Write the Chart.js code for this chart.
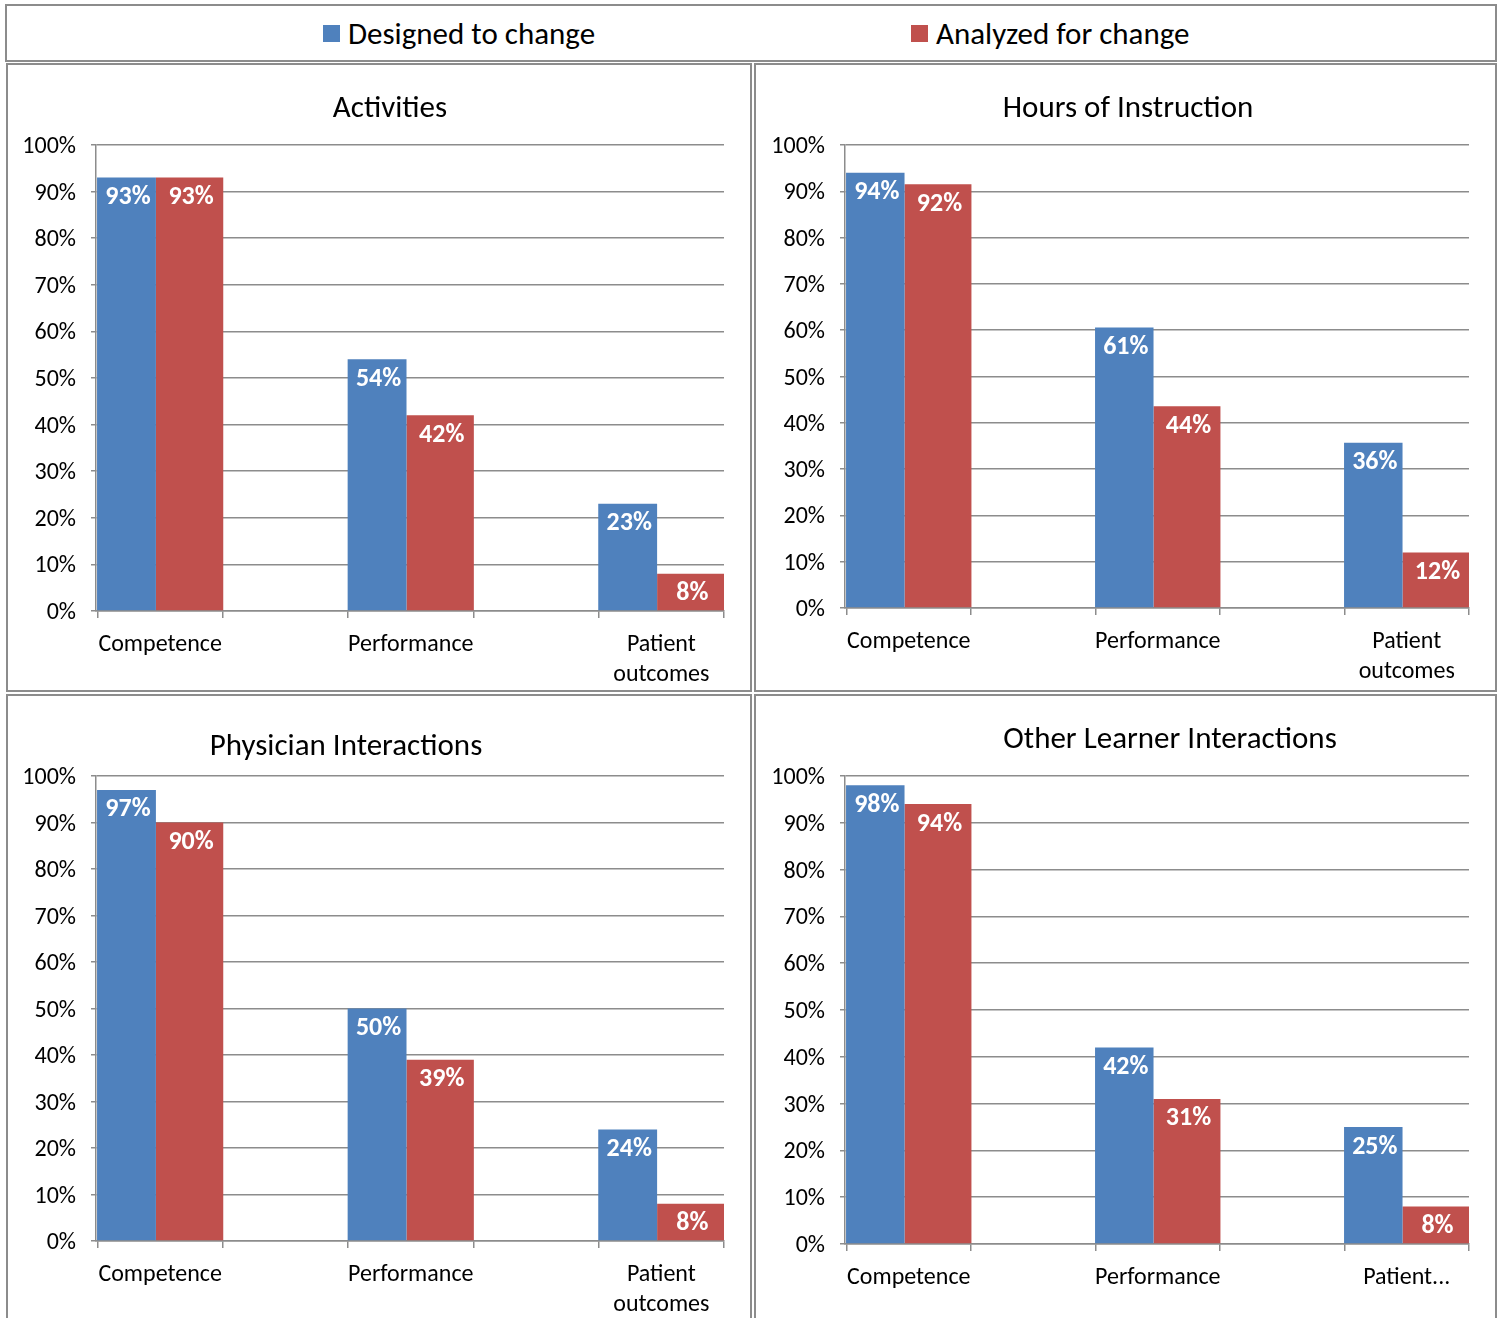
<!DOCTYPE html>
<html>
<head>
<meta charset="utf-8">
<script src="https://cdn.jsdelivr.net/npm/chart.js@4.4.1/dist/chart.umd.min.js"></script>
<style>
html, body { margin:0; padding:0; background:#fff; width:1501px; height:1318px; overflow:hidden; }
body { position:relative; font-family: Carlito, Calibri, Lato, sans-serif; color:#000; }
.box { position:absolute; border:2px solid #8c8c8c; box-sizing:border-box; }
canvas { position:absolute; }
.sw { position:absolute; width:17px; height:17px; }
.lt { position:absolute; font-size:31px; line-height:36px; white-space:nowrap; }
</style>
</head>
<body>
<div class="box" style="left:5px;top:4px;width:1492px;height:58px;"></div>
<div class="box" style="left:6px;top:63px;width:746px;height:629px;"></div>
<div class="box" style="left:754px;top:63px;width:743px;height:629px;"></div>
<div class="box" style="left:6px;top:694px;width:746px;height:640px;"></div>
<div class="box" style="left:754px;top:694px;width:743px;height:640px;"></div>
<div id="legend"></div>
<canvas id="c1" width="742" height="625" style="left:8px;top:65px;width:742px;height:625px;"></canvas>
<canvas id="c2" width="739" height="625" style="left:756px;top:65px;width:739px;height:625px;"></canvas>
<canvas id="c3" width="742" height="622" style="left:8px;top:696px;width:742px;height:622px;"></canvas>
<canvas id="c4" width="739" height="622" style="left:756px;top:696px;width:739px;height:622px;"></canvas>
<script>
// ---- data ----
const categories = ['Competence', 'Performance', 'Patient outcomes'];
const seriesNames = ['Designed to change', 'Analyzed for change'];
const seriesColors = ['#4F81BD', '#C0504D'];
const panelTitles = ['Activities', 'Hours of Instruction', 'Physician Interactions', 'Other Learner Interactions'];

const activitiesDesigned = [93, 54, 23];
const activitiesAnalyzed = [93, 42, 8];
const hoursDesigned = [94, 60.6, 35.7];
const hoursAnalyzed = [91.5, 43.6, 12];
const physicianDesigned = [97, 50, 24];
const physicianAnalyzed = [90, 39, 8];
const otherDesigned = [98, 42, 25];
const otherAnalyzed = [94, 31, 8];

const yTickStep = 10;
const yMin = 0, yMax = 100;

// ---- style ----
const FONT = 'Carlito, Calibri, Lato, sans-serif';
const GRID = '#8c8c8c';

// legend (HTML)
(function () {
  const leg = document.getElementById('legend');
  const pos = [323, 911];
  seriesNames.forEach((n, i) => {
    const sw = document.createElement('div');
    sw.className = 'sw';
    sw.style.left = pos[i] + 'px'; sw.style.top = '25px';
    sw.style.background = seriesColors[i];
    leg.appendChild(sw);
    const t = document.createElement('div');
    t.className = 'lt';
    t.style.left = (pos[i] + 25) + 'px'; t.style.top = '15px';
    t.textContent = n;
    leg.appendChild(t);
  });
})();

const panelTitlePlugin = {
  id: 'panelTitle',
  afterDraw(chart, args, opts) {
    const ctx = chart.ctx;
    ctx.save();
    ctx.font = opts.size + 'px ' + FONT;
    ctx.fillStyle = '#000';
    ctx.textAlign = 'center';
    ctx.textBaseline = 'middle';
    ctx.fillText(opts.text, opts.x, opts.y);
    ctx.restore();
  }
};

const valueLabelPlugin = {
  id: 'valueLabels',
  afterDatasetsDraw(chart) {
    const ctx = chart.ctx;
    ctx.save();
    ctx.fillStyle = '#ffffff';
    ctx.font = 'bold 26px ' + FONT;
    ctx.textAlign = 'center';
    ctx.textBaseline = 'middle';
    chart.data.datasets.forEach((ds, di) => {
      const meta = chart.getDatasetMeta(di);
      meta.data.forEach((bar, i) => {
        ctx.fillText(Math.round(ds.data[i].y) + '%', bar.x + 1.5, bar.y + 20);
      });
    });
    ctx.restore();
  }
};

function makeChart(id, titleIdx, designed, analyzed, lay) {
  const xTicks = [];
  categories.forEach((c, i) => { xTicks.push(i - 0.25, i, i + 0.25); });
  const labelFor = (v) => {
    const name = categories[v];
    if (lay.truncLast && v === categories.length - 1) return name.split(' ')[0] + '...';
    return name.indexOf(' ') > 0 ? name.split(' ') : name;
  };
  return new Chart(document.getElementById(id), {
    type: 'bar',
    data: {
      datasets: [
        { label: seriesNames[0], data: designed.map((v, i) => ({ x: i, y: v })),
          backgroundColor: seriesColors[0], categoryPercentage: 2.15, barPercentage: 0.874 },
        { label: seriesNames[1], data: analyzed.map((v, i) => ({ x: i, y: v })),
          backgroundColor: seriesColors[1], categoryPercentage: 1.879, barPercentage: 1.144 }
      ]
    },
    options: {
      responsive: false,
      animation: false,
      events: [],
      layout: { padding: { top: 80, right: lay.pr, left: 0, bottom: 0 } },
      plugins: {
        legend: { display: false },
        tooltip: { enabled: false },
        title: { display: false },
        panelTitle: { text: panelTitles[titleIdx], x: lay.tx, y: lay.ty, size: 31 }
      },
      scales: {
        x: {
          type: 'linear', min: -0.256, max: 2.25, offset: false, bounds: 'data',
          afterBuildTicks: (s) => { s.ticks = xTicks.map(v => ({ value: v })); },
          afterFit: (s) => { s.height = lay.xh; },
          grid: {
            offset: false, drawOnChartArea: false, drawTicks: true, tickLength: 7, lineWidth: 1.5,
            tickColor: (ctx) => (ctx.tick && Number.isInteger(ctx.tick.value)) ? 'rgba(0,0,0,0)' : GRID
          },
          border: { color: GRID, width: 1.5 },
          ticks: {
            autoSkip: false, maxRotation: 0, minRotation: 0, padding: 12, color: '#000',
            font: { family: FONT, size: 24, lineHeight: 1.25 },
            callback: (v) => Number.isInteger(v) ? labelFor(v) : ''
          }
        },
        y: {
          min: yMin, max: yMax,
          afterFit: (s) => { s.width = lay.yw; },
          grid: { color: GRID, lineWidth: 1.5, drawTicks: true, tickLength: 5, tickColor: GRID },
          border: { color: GRID, width: 1.5 },
          ticks: {
            stepSize: yTickStep, padding: 15, color: '#000', labelOffset: 2,
            font: { family: FONT, size: 24 },
            callback: (v) => v + '%'
          }
        }
      }
    },
    plugins: [panelTitlePlugin, valueLabelPlugin]
  });
}

makeChart('c1', 0, activitiesDesigned, activitiesAnalyzed, { pr: 26, yw: 88, xh: 79, tx: 382, ty: 44 });
makeChart('c2', 1, hoursDesigned, hoursAnalyzed, { pr: 26, yw: 89, xh: 82, tx: 372, ty: 44 });
makeChart('c3', 2, physicianDesigned, physicianAnalyzed, { pr: 26, yw: 88, xh: 77, tx: 338, ty: 51 });
makeChart('c4', 3, otherDesigned, otherAnalyzed, { pr: 26, yw: 89, xh: 74, tx: 414, ty: 44, truncLast: true });
</script>
</body>
</html>
